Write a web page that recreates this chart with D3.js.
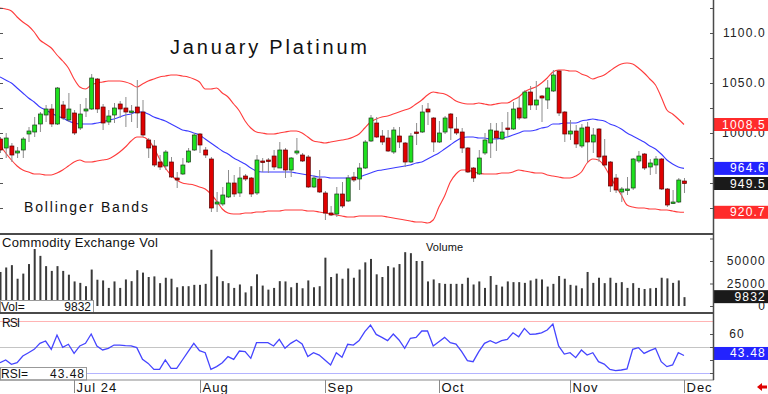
<!DOCTYPE html>
<html>
<head>
<meta charset="utf-8">
<script src="https://cdn.jsdelivr.net/npm/d3@7"></script>
<style>
  body { margin: 0; background: #fff; }
  svg { display: block; font-family: "Liberation Sans", Arial, sans-serif; }
  .lbl { font-size: 12px; letter-spacing: 1.2px; }
</style>
</head>
<body>
<div id="chart"></div>
<script>
// daily bars, mid June 2024 -> Dec 2 2024 (index = trading day)
const opens  = [994,985,987,980,983,999,1001,1009,1018,1024,1009,1028,1013,1020,1005,1022,1024,1054,1026,1011,
  1018,1029,1025,1021,1026,1021,993,987,971,967,971,955,959,971,983,999,983,974,929,929,
  936,950,940,957,955,940,972,973,977,965,983,963,980,978,976,946,954,940,920,919,
  939,932,956,954,965,992,1010,997,995,981,997,990,971,1001,1001,1024,1015,991,1001,1019,
  1004,1001,985,965,959,980,990,1002,994,1005,1004,1025,1015,1041,1028,1037,1033,1042,1062,1021,
  999,1002,987,1006,991,1004,977,971,955,941,943,945,972,979,966,968,974,944,930,931,952];
const highs  = [996,1000,990,986,996,1006,1016,1021,1028,1029,1046,1032,1040,1023,1029,1035,1059,1055,1029,1023,
  1030,1032,1036,1028,1053,1033,995,993,978,983,976,961,975,985,1000,1000,986,976,941,946,
  963,958,966,959,956,978,975,975,983,991,985,976,995,980,978,958,963,942,927,946,
  951,958,961,970,993,1018,1016,1003,1003,1006,1006,991,1000,1010,1028,1030,1016,1012,1017,1020,
  1016,1005,986,966,983,1000,1010,1010,1011,1021,1031,1036,1043,1047,1052,1038,1053,1063,1063,1022,
  1013,1008,1009,1011,1005,1005,994,972,959,946,956,975,982,980,974,977,975,945,943,955,955];
const lows   = [980,975,971,975,975,991,996,1001,1011,1006,1008,1013,1011,998,1003,1016,1023,1020,1003,1008,
  1010,1015,1006,1011,1005,996,975,966,963,963,955,945,958,970,982,980,975,921,921,927,
  935,936,936,952,936,938,961,960,963,965,955,956,978,971,945,945,940,913,917,916,
  925,931,951,943,964,991,995,988,981,979,985,966,970,988,1000,1008,981,990,999,993,
  998,980,960,951,958,978,975,982,993,996,1003,1013,1014,1023,1023,1011,1024,1041,1017,991,
  993,985,985,971,980,971,966,941,940,931,938,943,970,963,958,959,943,926,929,930,940];
const closes = [983,995,978,982,994,1002,1008,1019,1024,1009,1045,1015,1024,1000,1019,1024,1055,1024,1010,1017,
  1025,1024,1021,1022,1020,998,985,968,966,981,956,953,968,982,998,988,978,925,931,938,
  950,939,955,954,939,973,971,972,966,983,963,975,982,972,946,955,941,920,918,939,
  927,955,953,965,991,1015,996,991,982,1003,991,971,997,1000,1021,1021,991,1000,1015,1005,
  1000,985,961,955,975,993,1003,995,1001,1004,1024,1015,1041,1028,1033,1035,1045,1058,1020,999,
  1002,989,1005,991,998,976,968,947,943,944,944,974,977,965,970,974,944,928,931,953,949.5];

// Bollinger bands
const bbUpper = [1125,1124,1122,1116,1111,1107,1101,1093,1089,1085,1078,1072,1065,1054,1046,1044,1048,1050,1051,1052,
  1052,1052,1051,1049,1046,1049,1052,1054,1056,1057,1058,1058,1057,1056,1054,1051,1044,1044,1045,1040,
  1036,1029,1022,1012,1005,1001,1000,999,999,1000,1001,1002,1002,1000,996,992,991,990,991,992,
  993,994,996,999,1005,1011,1014,1016,1017,1019,1021,1023,1025,1029,1033,1038,1041,1040,1039,1036,
  1032,1030,1029,1029,1030,1029,1028,1029,1030,1030,1033,1036,1041,1044,1046,1050,1055,1061,1063,1063,
  1062,1062,1059,1057,1054,1056,1058,1062,1066,1069,1070,1069,1065,1060,1054,1048,1036,1023,1019,1014,1008.5];
const bbMid = [1056,1053,1050,1045,1040,1035,1031,1026,1023,1020,1017,1015,1012,1010,1009,1009,1009,1010,1011,1013,
  1014,1016,1018,1019,1021,1021,1019,1016,1014,1012,1009,1006,1003,1002,1000,998,994,990,986,982,
  979,975,972,969,965,962,961,961,961,961,961,961,960,959,958,957,956,956,955,955,
  955,955,955,956,958,960,962,963,964,965,966,967,968,970,971,974,977,980,984,988,
  992,995,996,996,995,995,994,994,995,996,998,1000,1002,1002,1003,1005,1006,1009,1009,1010,
  1010,1010,1012,1013,1014,1013,1012,1009,1007,1004,1000,997,994,991,987,984,979,973,969,966,964.6];
const bbLower = [988,980,973,967,963,961,959,959,958,958,960,963,967,971,973,971,971,972,973,974,
  977,981,986,992,996,996,993,985,974,965,958,953,950,949,948,946,944,939,932,924,
  920,919,919,920,920,921,921,922,922,922,923,923,923,923,922,922,921,920,919,918,
  917,916,916,917,917,917,917,917,916,915,914,913,912,911,911,910,913,926,937,951,
  959,963,963,961,960,959,959,959,960,960,961,963,962,961,960,960,958,957,956,955,
  955,957,961,970,974,973,967,957,947,938,928,926,925,925,924,924,923,923,922,921,920.7];

const volumes = [37800,42800,45400,30300,36000,46600,63300,55700,44300,39000,44300,39000,34800,27300,25700,22000,40500,29200,28400,20100,
  27300,20100,29500,27600,39800,37100,32200,32900,25400,31400,30300,20800,22000,22000,23500,23500,24600,62500,32900,27600,
  25400,20100,23900,15100,22000,35200,22700,18200,20100,27600,27300,20800,25700,19700,28400,20800,22000,53700,32200,36000,
  30300,41700,31400,40500,48500,52300,35200,32200,44300,42800,46600,59800,58700,50000,50000,27300,29500,25400,24600,24600,
  24600,24600,31400,23900,27300,20100,33300,23500,21600,27300,26500,26500,25700,28400,30300,29500,21600,24600,33300,30300,
  23500,22700,19700,37800,25700,31400,25400,31400,25700,26500,20100,25400,20100,18900,19700,20100,31400,30700,25700,28400,9832];

const rsiValues = [37.9,40.0,36.7,37.9,43.1,45.6,48.2,52.8,54.6,48.2,59.2,49.7,52.1,45.1,50.8,52.8,60.0,50.8,47.7,49.0,
  51.5,51.5,51.0,50.8,49.5,40.5,37.4,32.8,32.8,40.0,33.6,33.6,40.0,46.4,52.8,47.2,45.6,32.8,34.9,37.9,
  42.6,40.5,46.9,46.4,41.3,53.3,53.3,53.3,50.8,55.9,49.0,52.8,55.4,52.3,42.6,45.6,43.8,40.0,36.2,45.6,
  42.1,52.1,51.5,54.9,61.8,66.9,59.7,57.4,54.9,60.0,55.4,49.0,56.7,57.4,62.3,62.3,50.8,54.1,57.4,53.3,
  52.3,46.4,39.5,38.7,46.4,52.8,54.9,52.8,54.9,55.9,60.9,57.9,64.3,59.7,60.0,60.9,63.1,67.7,50.8,44.6,
  45.6,41.8,47.7,43.8,45.6,38.7,36.9,32.8,31.8,32.3,33.1,48.2,49.5,45.1,47.2,49.0,38.7,34.9,36.2,45.6,43.48];

const tickBars = [13, 35, 57, 77, 100, 120];
const tickLabels = ["Jul 24", "Aug", "Sep", "Oct", "Nov", "Dec"];
const priceTicks = [1000, 1050, 1100];
const volTicks = [25000, 50000];
const rsiTicks = [60];

/**
 * CONSTANTS
 */
const width = 768, height = 394, plotRight = 713;
const price = { top: 0, bottom: 233 }, vol = { top: 235, bottom: 312 }, rsiP = { top: 314, bottom: 379 };
const upColor = "#1ee01e", downColor = "#e00000", wickColor = "#8c8c8c";
const fmt1 = d3.format(".1f");

const svg = d3.select("#chart").append("svg")
  .attr("width", width).attr("height", height);

// scales
const xscale = d3.scaleLinear().domain([0, closes.length - 1]).range([0, 684]);
const yPrice = d3.scaleLinear().domain([900, 1133]).range([price.bottom, price.top]);
const yVol = d3.scaleLinear().domain([0, 50000]).range([306, 261]);
const yRsi = d3.scaleLinear().domain([30, 70]).range([373, 321]);

const idx = d3.range(closes.length);

// clip for the plot region
svg.append("clipPath").attr("id", "clipPrice")
  .append("rect").attr("x", 0).attr("y", price.top).attr("width", plotRight).attr("height", price.bottom - price.top);

/* ---------- price panel ---------- */
const gP = svg.append("g").attr("clip-path", "url(#clipPrice)");

const bandLine = arr => d3.line().x(i => xscale(i)).y(i => yPrice(arr[i])).curve(d3.curveMonotoneX)(idx);
gP.append("path").attr("d", bandLine(bbUpper)).attr("fill", "none").attr("stroke", "#ff3b3b").attr("stroke-width", 1.1);
gP.append("path").attr("d", bandLine(bbLower)).attr("fill", "none").attr("stroke", "#ff3b3b").attr("stroke-width", 1.1);
gP.append("path").attr("d", bandLine(bbMid)).attr("fill", "none").attr("stroke", "#3b3bff").attr("stroke-width", 1.1);

// wicks
gP.selectAll("line.wick").data(idx).join("line")
  .attr("class", "wick")
  .attr("x1", i => xscale(i) + 0.5).attr("x2", i => xscale(i) + 0.5)
  .attr("y1", i => yPrice(highs[i])).attr("y2", i => yPrice(lows[i]))
  .attr("stroke", wickColor).attr("stroke-width", 1);

// bodies
gP.selectAll("rect.body").data(idx).join("rect")
  .attr("class", "body")
  .attr("x", i => xscale(i) - 1.5)
  .attr("width", 4)
  .attr("y", i => yPrice(Math.max(opens[i], closes[i])))
  .attr("height", i => Math.max(1.5, Math.abs(yPrice(opens[i]) - yPrice(closes[i]))))
  .attr("fill", i => closes[i] >= opens[i] ? upColor : downColor)
  .attr("stroke", i => closes[i] >= opens[i] ? "#1a3a1a" : "#5a0000")
  .attr("stroke-width", 0.7);

// price axis (right)
svg.append("g")
  .attr("transform", `translate(${plotRight}, 0)`)
  .call(d3.axisLeft(yPrice).tickValues(d3.range(925, 1133, 25)).tickSize(3).tickFormat(""))
  .call(g => g.select(".domain").remove())
  .call(g => g.selectAll("line").attr("stroke", "#555"));
svg.append("g")
  .call(d3.axisRight(yPrice).tickValues(d3.range(925, 1133, 25)).tickSize(3).tickFormat(""))
  .call(g => g.select(".domain").remove())
  .call(g => g.selectAll("line").attr("stroke", "#555"));

svg.append("g").selectAll("text").data(priceTicks).join("text")
  .attr("class", "lbl")
  .attr("x", 766).attr("y", d => yPrice(d)).attr("dy", "0.36em")
  .attr("text-anchor", "end").attr("fill", "#222")
  .text(d => fmt1(d));

// value boxes on price axis
const priceBoxes = [
  { v: bbUpper[bbUpper.length - 1], fill: "#ff2b2b", text: "#fff" },
  { v: bbMid[bbMid.length - 1], fill: "#2323ff", text: "#fff" },
  { v: closes[closes.length - 1], fill: "#1a1a1a", text: "#fff" },
  { v: bbLower[bbLower.length - 1], fill: "#ff2b2b", text: "#fff" }
];
const pb = svg.append("g").selectAll("g").data(priceBoxes).join("g")
  .attr("transform", d => `translate(714, ${yPrice(d.v) - 6.5})`);
pb.append("rect").attr("width", 54).attr("height", 13).attr("fill", d => d.fill);
pb.append("text").attr("class", "lbl").attr("x", 52).attr("y", 10.5)
  .attr("text-anchor", "end").attr("fill", d => d.text).text(d => fmt1(d.v));

svg.append("text").attr("x", 170).attr("y", 54)
  .attr("font-size", 20).attr("textLength", 197).attr("lengthAdjust", "spacing")
  .attr("fill", "#111").text("January Platinum");
svg.append("text").attr("x", 24).attr("y", 212)
  .attr("font-size", 14).attr("textLength", 124).attr("lengthAdjust", "spacing")
  .attr("fill", "#111").text("Bollinger Bands");

/* ---------- volume panel ---------- */
svg.append("g").selectAll("rect").data(idx).join("rect")
  .attr("x", i => xscale(i) - 0.5).attr("width", 2)
  .attr("y", i => yVol(volumes[i]))
  .attr("height", i => yVol(0) - yVol(volumes[i]))
  .attr("fill", "#3a3a3a");

svg.append("g")
  .attr("transform", `translate(${plotRight}, 0)`)
  .call(d3.axisLeft(yVol).tickValues([0, 25000, 50000, 75000]).tickSize(3).tickFormat(""))
  .call(g => g.select(".domain").remove())
  .call(g => g.selectAll("line").attr("stroke", "#555"));

svg.append("g").selectAll("text").data(volTicks.concat([0])).join("text")
  .attr("class", "lbl")
  .attr("x", 766).attr("y", d => yVol(d)).attr("dy", "0.36em")
  .attr("text-anchor", "end").attr("fill", "#222").attr("letter-spacing", "0.3px")
  .text(d => d);

const lastVol = volumes[volumes.length - 1];
const vb = svg.append("g").attr("transform", `translate(714, ${yVol(lastVol) - 7})`);
vb.append("rect").attr("width", 54).attr("height", 13).attr("fill", "#1a1a1a");
vb.append("text").attr("class", "lbl").attr("x", 52).attr("y", 10.5).attr("letter-spacing", "0.3px")
  .attr("text-anchor", "end").attr("fill", "#fff").text(lastVol);

svg.append("text").attr("x", 2).attr("y", 247)
  .attr("font-size", 13).attr("textLength", 156).attr("lengthAdjust", "spacing")
  .attr("fill", "#111").text("Commodity Exchange Vol");
svg.append("text").attr("x", 426).attr("y", 251)
  .attr("font-size", 11).attr("textLength", 37).attr("lengthAdjust", "spacing")
  .attr("fill", "#111").text("Volume");

const vbox = svg.append("g").attr("transform", "translate(0, 300)");
vbox.append("rect").attr("x", 0.5).attr("y", 0.5).attr("width", 93).attr("height", 12.5)
  .attr("fill", "#fff").attr("stroke", "#999");
vbox.append("text").attr("x", 1).attr("y", 11).attr("font-size", 12).attr("fill", "#111").text("Vol=");
vbox.append("text").attr("x", 91).attr("y", 11).attr("font-size", 12).attr("text-anchor", "end")
  .attr("fill", "#111").text(lastVol);

/* ---------- RSI panel ---------- */
const rsiRefs = [{ v: 70, c: "#ffb4b4" }, { v: 50, c: "#c4c4c4" }, { v: 30, c: "#b4b4ff" }];
svg.append("g").selectAll("line").data(rsiRefs).join("line")
  .attr("x1", 0).attr("x2", plotRight)
  .attr("y1", d => yRsi(d.v) + 0.5).attr("y2", d => yRsi(d.v) + 0.5)
  .attr("stroke", d => d.c).attr("stroke-width", 1);

svg.append("path")
  .attr("d", d3.line().x(i => xscale(i)).y(i => yRsi(rsiValues[i]))(idx))
  .attr("fill", "none").attr("stroke", "#4545ff").attr("stroke-width", 1.3);

svg.append("g")
  .attr("transform", `translate(${plotRight}, 0)`)
  .call(d3.axisLeft(yRsi).tickValues([30, 40, 50, 60]).tickSize(3).tickFormat(""))
  .call(g => g.select(".domain").remove())
  .call(g => g.selectAll("line").attr("stroke", "#555"));

svg.append("g").selectAll("text").data(rsiTicks).join("text")
  .attr("class", "lbl")
  .attr("x", 745).attr("y", d => yRsi(d)).attr("dy", "0.36em")
  .attr("text-anchor", "end").attr("fill", "#222").text(d => d);

const lastRsi = rsiValues[rsiValues.length - 1];
const rb = svg.append("g").attr("transform", `translate(714, ${yRsi(lastRsi) - 8.5})`);
rb.append("rect").attr("width", 54).attr("height", 13).attr("fill", "#2323ff");
rb.append("text").attr("class", "lbl").attr("x", 52).attr("y", 10.5)
  .attr("text-anchor", "end").attr("fill", "#fff").text(d3.format(".2f")(lastRsi));

svg.append("text").attr("x", 2).attr("y", 327).attr("font-size", 12)
  .attr("textLength", 18).attr("lengthAdjust", "spacing").attr("fill", "#111").text("RSI");

const rbox = svg.append("g").attr("transform", "translate(0, 367)");
rbox.append("rect").attr("x", 0.5).attr("y", 0.5).attr("width", 86).attr("height", 12.5)
  .attr("fill", "#fff").attr("stroke", "#999");
rbox.append("text").attr("x", 1).attr("y", 11).attr("font-size", 12).attr("fill", "#111").text("RSI=");
rbox.append("text").attr("x", 85).attr("y", 11).attr("font-size", 12).attr("text-anchor", "end")
  .attr("letter-spacing", "1px").attr("fill", "#111").text(d3.format(".2f")(lastRsi));

/* ---------- frame ---------- */
svg.append("line").attr("x1", 0).attr("x2", plotRight + 1).attr("y1", 234).attr("y2", 234)
  .attr("stroke", "#4a4a4a").attr("stroke-width", 2);
svg.append("line").attr("x1", 0).attr("x2", plotRight + 1).attr("y1", 313).attr("y2", 313)
  .attr("stroke", "#4a4a4a").attr("stroke-width", 2);
svg.append("line").attr("x1", 0).attr("x2", plotRight + 1).attr("y1", 380).attr("y2", 380)
  .attr("stroke", "#8a8a8a").attr("stroke-width", 1);
svg.append("line").attr("x1", plotRight + 0.5).attr("x2", plotRight + 0.5).attr("y1", 0).attr("y2", 380)
  .attr("stroke", "#4a4a4a").attr("stroke-width", 1.5);

/* ---------- date axis ---------- */
const gx = svg.append("g").selectAll("g").data(tickBars).join("g")
  .attr("transform", i => `translate(${Math.round(xscale(i)) + 0.5}, 380)`);
gx.append("line").attr("y1", 0).attr("y2", 13).attr("stroke", "#8a8a8a");
gx.append("text").attr("x", 2).attr("y", 11.5).attr("font-size", 13)
  .attr("letter-spacing", "1px").attr("fill", "#111")
  .text((d, k) => tickLabels[k]);

// small red arrow bottom right
svg.append("path").attr("d", "M757,387 L762,383 L762,385.5 L767,385.5 L767,388.5 L762,388.5 L762,391 Z")
  .attr("fill", "#e00000");
</script>
</body>
</html>
